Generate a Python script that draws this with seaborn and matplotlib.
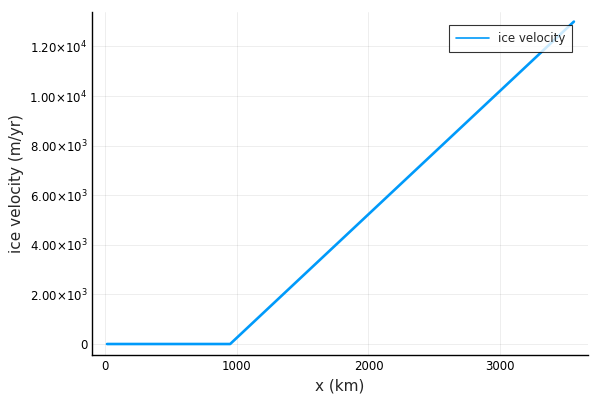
import matplotlib
matplotlib.use("Agg")
import matplotlib.pyplot as plt
import seaborn as sns
import pandas as pd
from matplotlib.ticker import FixedLocator, FixedFormatter

x_km = [15, 950, 3560]
velocity = [0, 0, 13000]
yticks = [0, 2000, 4000, 6000, 8000, 10000, 12000]
ytick_labels = ["0", r"2.00$\times$10$^{3}$", r"4.00$\times$10$^{3}$", r"6.00$\times$10$^{3}$",
                r"8.00$\times$10$^{3}$", r"1.00$\times$10$^{4}$", r"1.20$\times$10$^{4}$"]
xticks = [0, 1000, 2000, 3000]

sns.set_style("white")
plt.rcParams['font.family'] = ['DejaVu Sans']
plt.rcParams['mathtext.fontset'] = 'dejavusans'

df = pd.DataFrame({"x": x_km, "v": velocity})
fig = plt.figure(figsize=(6, 4), dpi=100)
ax = fig.add_axes([92/600, 1 - 355/400, (588-92)/600, (355-12)/400])
sns.lineplot(data=df, x="x", y="v", ax=ax, color="#009AFA", linewidth=1.9, label="ice velocity")

ax.set_xlim(-99, 3667)
ax.set_ylim(-443, 13387)
ax.xaxis.set_major_locator(FixedLocator(xticks))
ax.set_xticklabels([str(t) for t in xticks])
ax.yaxis.set_major_locator(FixedLocator(yticks))
ax.yaxis.set_major_formatter(FixedFormatter(ytick_labels))
ax.tick_params(axis='both', labelsize=8.5, direction='in', length=3, width=0.8, colors='black')
ax.grid(True, color='black', alpha=0.08, linewidth=0.6)
for s in ["top", "right"]:
    ax.spines[s].set_visible(False)
for s in ["left", "bottom"]:
    ax.spines[s].set_color("black")
    ax.spines[s].set_linewidth(1)
ax.set_xlabel("x (km)", fontsize=11)
ax.set_ylabel("ice velocity (m/yr)", fontsize=11)
leg = ax.legend(loc="upper right", fontsize=8.6, frameon=True, fancybox=False,
                edgecolor="black", borderpad=0.6, handlelength=2.8, handletextpad=0.7,
                borderaxespad=0, bbox_to_anchor=(0.968, 0.962))
leg.get_frame().set_linewidth(0.8)
for line in leg.get_lines():
    line.set_linewidth(1.2)
fig.savefig("out.png", dpi=100)
